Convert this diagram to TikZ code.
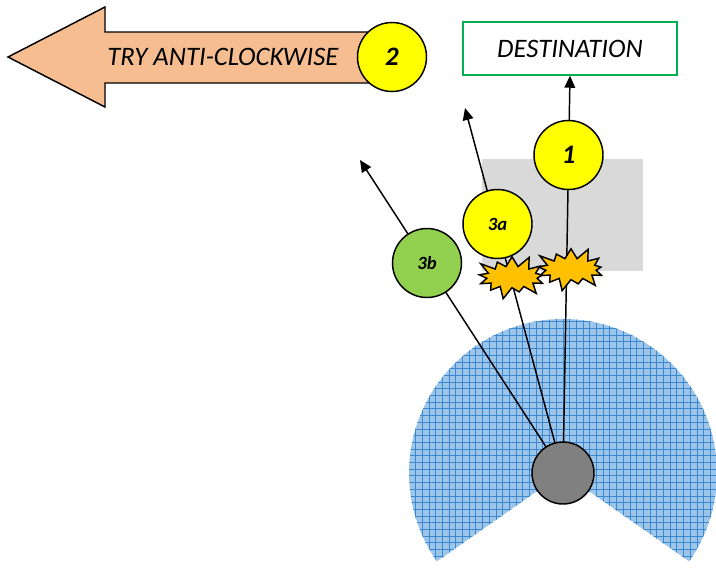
\documentclass[tikz,border=0pt]{standalone}
\usepackage{fontspec}
\setmainfont{Carlito}
\usetikzlibrary{shapes.symbols,arrows.meta}
\definecolor{peach}{HTML}{F6BE90}
\definecolor{yel}{HTML}{FFFF00}
\definecolor{grn}{HTML}{92D050}
\definecolor{boxgreen}{HTML}{00B050}
\definecolor{orng}{HTML}{FFC000}
\definecolor{lgray}{HTML}{D9D9D9}
\definecolor{dgray}{HTML}{808080}
\definecolor{skyb}{HTML}{9DC5EA}
\definecolor{gridb}{HTML}{3A88D0}
\begin{document}
\begin{tikzpicture}[x=0.75pt,y=0.75pt,
  conn/.style={line width=1.1pt,-{Triangle[length=9pt,width=8pt]}},
  ball/.style={circle,draw,line width=1.1pt,minimum size=51.75pt,inner sep=0pt,
    font=\fontsize{20}{20}\selectfont\bfseries\itshape},
  smallball/.style={ball,font=\fontsize{14}{14}\selectfont\bfseries\itshape},
  burst/.style={starburst,starburst points=13,starburst point height=10pt,
    draw,line width=1.1pt,fill=orng,minimum width=58pt,minimum height=36pt,inner sep=0pt}]
\useasboundingbox (0,0) rectangle (716,-568);
% blue sector with grid
\begin{scope}
  \clip (563,-473) -- ++(-35:154) arc[start angle=-35,end angle=215,radius=154] -- cycle;
  \fill[skyb] (400,-300) rectangle (720,-570);
  \draw[gridb,line width=0.4pt,step=6.7] (400,-300) grid (720,-570);
\end{scope}
% gray area
\fill[lgray] (482,-159) rectangle (643,-271);
% big arrow
\draw[line width=1.1pt,fill=peach,line join=miter]
  (8,-57) -- (105,-7) -- (105,-32) -- (375,-32) -- (375,-83) -- (105,-83) -- (105,-107) -- cycle;
\node[font=\fontsize{20}{20}\selectfont\itshape] (arrtext) at (223,-57) {TRY ANTI-CLOCKWISE};
% destination
\node[draw=boxgreen,line width=1.1pt,minimum width=160.5pt,minimum height=39.75pt,
  font=\fontsize{20}{20}\selectfont\itshape] (dest) at (570,-48.5) {DESTINATION};
% coordinates
\coordinate (g) at (563,-473);
\coordinate (t3a) at (465,-108);
\coordinate (t3b) at (360,-160);
% connectors
\draw[conn] (g) -- (dest.south);
\draw[conn] (g) -- (t3a);
\draw[conn] (g) -- (t3b);
% circles
\node[ball,fill=yel] (c2) at (392,-57) {2};
\node[ball,fill=yel] (c1) at (568.5,-155) {1};
\node[smallball,fill=yel] (c3a) at (497.5,-224) {3a};
\node[smallball,fill=grn] (c3b) at (427,-263) {3b};
% bursts
\pgfmathsetseed{7}
\node[burst] (s1) at (571,-269) {};
\node[burst] (s2) at (512,-277) {};
% origin
\node[circle,draw,line width=1.1pt,fill=dgray,minimum size=46.5pt,inner sep=0pt] (o) at (g) {};
\end{tikzpicture}
\end{document}
